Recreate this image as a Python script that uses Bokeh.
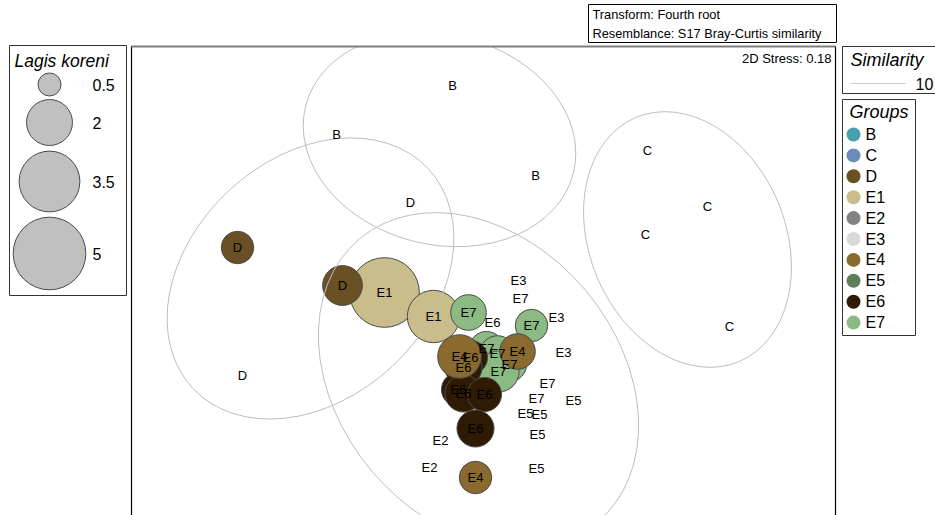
import numpy as np
from bokeh.plotting import figure
from bokeh.models import Range1d, ColumnDataSource
from bokeh.core.properties import value
from bokeh.embed import file_html
from bokeh.resources import INLINE

# ---------------- data ----------------
groups = ["B", "C", "D", "E1", "E2", "E3", "E4", "E5", "E6", "E7"]
group_colors = ["#46a1ad", "#6b8bbb", "#6a5125", "#c9bd8b", "#828282",
                "#d9d9d9", "#8b6a2f", "#5f7f5b", "#2f1a04", "#8bba83"]

# nMDS sample coordinates (drawing order) and Lagis koreni abundance
sample_group = ["B", "B", "B",
                "C", "C", "C", "C",
                "E1", "E1",
                "D", "D", "D", "D",
                "E2", "E2",
                "E3", "E3", "E3",
                "E5", "E5", "E5", "E5", "E5",
                "E7", "E7", "E7", "E7", "E7", "E7", "E7", "E7", "E7",
                "E6", "E6", "E6", "E6", "E6", "E6", "E6",
                "E4", "E4", "E4"]
sample_x = [-0.14, -0.72, 0.275,
            0.835, 1.135, 0.825, 1.245,
            -0.48, -0.235,
            -0.35, -1.215, -0.69, -1.19,
            -0.20, -0.255,
            0.19, 0.38, 0.415,
            0.465, 0.225, 0.295, 0.285, 0.28,
            -0.06, 0.255, 0.03, 0.085, 0.145, 0.09, 0.20, 0.335, 0.28,
            0.06, -0.05, -0.085, -0.11, -0.085, 0.02, -0.025,
            -0.105, 0.185, -0.025]
sample_y = [1.075, 0.83, 0.625,
            0.75, 0.47, 0.33, -0.13,
            0.04, -0.08,
            0.49, 0.265, 0.075, -0.375,
            -0.70, -0.835,
            0.10, -0.085, -0.26,
            -0.50, -0.565, -0.57, -0.67, -0.84,
            -0.06, -0.125, -0.24, -0.265, -0.32, -0.355, 0.01, -0.415, -0.49,
            -0.11, -0.285, -0.335, -0.445, -0.465, -0.47, -0.64,
            -0.28, -0.255, -0.885]
lagis = [0, 0, 0,
         0, 0, 0, 0,
         4.6, 2.6,
         0, 1.0, 1.5, 0,
         0, 0,
         0, 0, 0,
         0, 0, 0, 0, 0,
         1.2, 1.0, 1.1, 1.2, 1.1, 1.6, 0, 0, 0,
         0, 1.1, 1.3, 1.1, 1.3, 1.1, 1.3,
         1.8, 1.2, 1.0]

# similarity 10 contours (approximated as ellipses)
contour_x = [-0.205, -0.85, -0.01, 1.035]
contour_y = [0.805, 0.11, -0.40, 0.305]
contour_w = [1.38, 1.61, 1.85, 1.325]
contour_h = [1.05, 1.20, 1.40, 0.98]
contour_angle_deg = [-14, 43, -50, -67]

legend_values = [0.5, 2, 3.5, 5]
legend_labels = ["0.5", "2", "3.5", "5"]
similarity_level = "10"
stress_text = "2D Stress: 0.18"
info_lines = ["Transform: Fourth root", "Resemblance: S17 Bray-Curtis similarity"]

# ---------------- layout ----------------
W, H = 935, 515
BUB = 32.5  # diameter (px) per sqrt(abundance)
FONT = value("Liberation Sans")

p = figure(width=W, height=H, output_backend="svg", toolbar_location=None,
           x_axis_type=None, y_axis_type=None, min_border=0,
           x_range=Range1d(0, W), y_range=Range1d(H, 0))
p.outline_line_color = None
p.background_fill_color = "white"
p.border_fill_color = "white"
p.grid.visible = False

# MDS coordinate system (equal scale 200 px / unit)
p.extra_x_ranges = {"mds": Range1d((0 - 480) / 200, (W - 480) / 200)}
p.extra_y_ranges = {"mds": Range1d((300 - H) / 200, (300 - 0) / 200)}

color_of = dict(zip(groups, group_colors))

# bubbles
bx, by, bs, bc = [], [], [], []
for g, x, y, v in zip(sample_group, sample_x, sample_y, lagis):
    if v > 0:
        bx.append(x); by.append(y); bs.append(BUB * np.sqrt(v)); bc.append(color_of[g])
src_b = ColumnDataSource(dict(x=bx, y=by, size=bs, color=bc))
p.scatter(x="x", y="y", size="size", fill_color="color", line_color="#4a4a4a",
          line_width=1, source=src_b, marker="circle",
          x_range_name="mds", y_range_name="mds")

# contours
src_c = ColumnDataSource(dict(x=contour_x, y=contour_y, w=contour_w, h=contour_h,
                              a=[np.deg2rad(a) for a in contour_angle_deg]))
p.ellipse(x="x", y="y", width="w", height="h", angle="a", source=src_c,
          fill_color=None, line_color="#bdbdbd", line_width=1,
          x_range_name="mds", y_range_name="mds")

# mask above plot frame (clip)
p.quad(left=[131.5], right=[834.5], top=[-2], bottom=[45.5],
       fill_color="white", line_color=None)

# plot frame
p.quad(left=[131], right=[835], top=[46], bottom=[700], fill_color=None,
       line_color="#000000", line_width=1.2)
p.segment(x0=[131], x1=[835], y0=[46], y1=[46], line_color="#7f7f7f", line_width=2)

# sample labels
src_t = ColumnDataSource(dict(x=sample_x, y=sample_y, t=sample_group))
p.text(x="x", y="y", text="t", source=src_t, text_font=FONT,
       text_font_size="13px", text_align="center", text_baseline="middle",
       text_color="#000000", x_range_name="mds", y_range_name="mds")

p.text(x=[831], y=[58], text=[stress_text], text_font=FONT, text_font_size="13px",
       text_align="right", text_baseline="middle", text_color="#000000")

# transform / resemblance box
p.quad(left=[588], right=[836], top=[4], bottom=[42], fill_color="white",
       line_color="#000000", line_width=1)
p.text(x=[592, 592], y=[14, 33], text=info_lines, text_font=FONT,
       text_font_size="12.8px", text_align="left", text_baseline="middle",
       text_color="#000000")

# Lagis koreni bubble legend
p.quad(left=[9], right=[126], top=[45], bottom=[295], fill_color="white",
       line_color="#333333", line_width=1)
p.text(x=[14], y=[60], text=["Lagis koreni"], text_font=FONT, text_font_size="17.5px",
       text_font_style="italic", text_align="left", text_baseline="middle")
leg_y = [84, 122, 181, 253]
p.scatter(x=[49] * 4, y=leg_y, size=[BUB * np.sqrt(v) for v in legend_values],
          marker="circle", fill_color="#c0c0c0", line_color="#4a4a4a", line_width=1)
p.text(x=[92] * 4, y=leg_y, text=legend_labels, text_font=FONT,
       text_font_size="16px", text_align="left", text_baseline="middle")

# Similarity legend
p.quad(left=[842], right=[945], top=[46], bottom=[93], fill_color="white",
       line_color="#333333", line_width=1)
p.text(x=[850], y=[59], text=["Similarity"], text_font=FONT, text_font_size="18px",
       text_font_style="italic", text_align="left", text_baseline="middle")
p.segment(x0=[850], x1=[905], y0=[83], y1=[83], line_color="#c8c8c8", line_width=1)
p.text(x=[915], y=[83], text=[similarity_level], text_font=FONT,
       text_font_size="16px", text_align="left", text_baseline="middle")

# Groups legend
p.quad(left=[842], right=[915], top=[99], bottom=[335], fill_color="white",
       line_color="#333333", line_width=1)
p.text(x=[849], y=[111], text=["Groups"], text_font=FONT, text_font_size="18px",
       text_font_style="italic", text_align="left", text_baseline="middle")
gy = [134 + i * 20.9 for i in range(len(groups))]
p.scatter(x=[853] * len(groups), y=gy, size=14, marker="circle",
          fill_color=group_colors, line_color=None)
p.text(x=[865] * len(groups), y=gy, text=groups, text_font=FONT,
       text_font_size="16px", text_align="left", text_baseline="middle")

open("out.html", "w").write(file_html(p, INLINE))
